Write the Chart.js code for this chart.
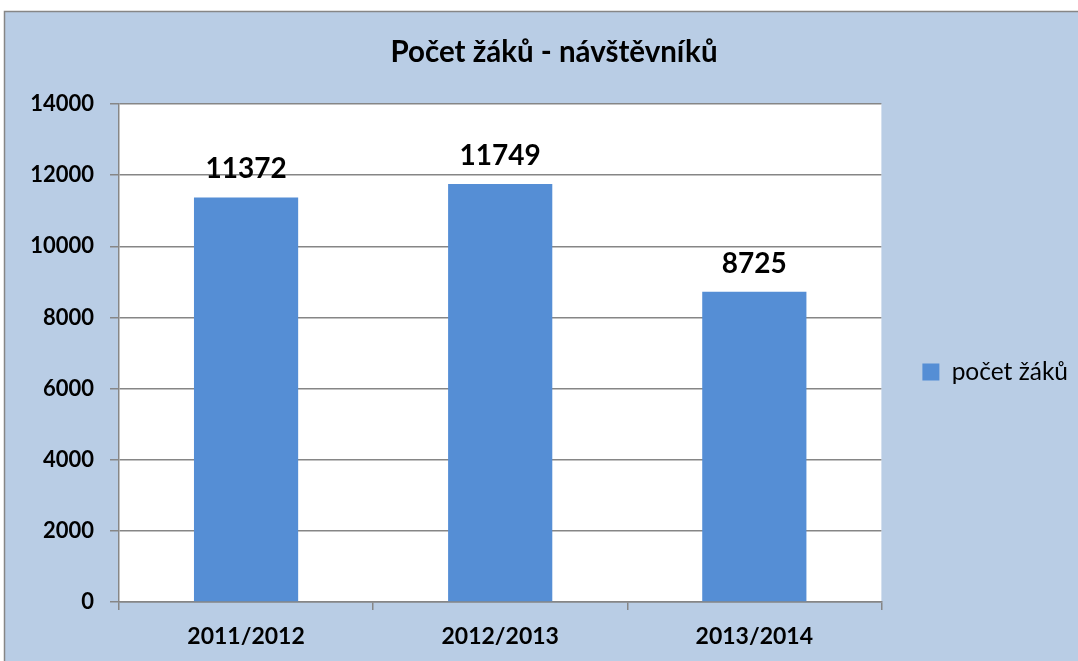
<!DOCTYPE html>
<html>
<head>
<meta charset="utf-8">
<script src="https://cdn.jsdelivr.net/npm/chart.js@4/dist/chart.umd.min.js"></script>
<style>
  html, body { margin: 0; padding: 0; background: #fff; }
  #wrap { width: 1078px; height: 661px; }
</style>
</head>
<body>
<div id="wrap"><canvas id="chart" width="1078" height="661"></canvas></div>
<script>
const categories = ["2011/2012", "2012/2013", "2013/2014"];
const pocetZaku = [11372, 11749, 8725];
const yMin = 0, yMax = 14000, yStep = 2000;

const FONT = "Lato, 'Open Sans', sans-serif";
const BG = "#B9CDE5";
const BAR = "#558ED5";
const LINE = "#868686";

// pozadí grafu + bílá plocha
const background = {
  id: "background",
  beforeDraw(chart) {
    const { ctx, chartArea: a } = chart;
    ctx.save();
    ctx.fillStyle = "#fff";
    ctx.fillRect(0, 0, chart.width, chart.height);
    ctx.fillStyle = BG;
    ctx.fillRect(4, 11, chart.width, chart.height);
    ctx.strokeStyle = LINE;
    ctx.lineWidth = 1.5;
    ctx.beginPath();
    ctx.moveTo(4.5, chart.height);
    ctx.lineTo(4.5, 11.5);
    ctx.lineTo(chart.width, 11.5);
    ctx.stroke();
    ctx.fillStyle = "#fff";
    ctx.fillRect(a.left, a.top, a.right - a.left, a.bottom - a.top);
    ctx.restore();
  }
};

// popisky hodnot nad sloupci
const valueLabels = {
  id: "valueLabels",
  afterDatasetsDraw(chart) {
    const { ctx } = chart;
    const meta = chart.getDatasetMeta(0);
    ctx.save();
    ctx.font = "bold 28px " + FONT;
    ctx.fillStyle = "#000";
    ctx.textAlign = "center";
    ctx.textBaseline = "alphabetic";
    meta.data.forEach((bar, i) => {
      ctx.fillText(chart.data.datasets[0].data[i], bar.x, bar.y - 19);
    });
    ctx.restore();
  }
};

new Chart(document.getElementById("chart"), {
  type: "bar",
  data: {
    labels: categories,
    datasets: [{
      label: "počet žáků",
      data: pocetZaku,
      backgroundColor: BAR,
      borderWidth: 0,
      categoryPercentage: 1,
      barPercentage: 0.41
    }]
  },
  options: {
    responsive: false,
    animation: false,
    layout: { padding: { left: 30, top: 11, right: 0, bottom: 0 } },
    plugins: {
      title: {
        display: true,
        text: "Počet žáků - návštěvníků",
        color: "#000",
        font: { family: FONT, size: 29.5, weight: "bold", lineHeight: 1.2 },
        padding: { top: 23.3, bottom: 34.3 }
      },
      legend: {
        position: "right",
        fullSize: false,
        title: { display: true, text: "", font: { size: 10, lineHeight: 1 }, padding: { top: 28, bottom: 0 } },
        labels: {
          color: "#000",
          boxWidth: 17,
          boxHeight: 17,
          padding: 41,
          font: { family: FONT, size: 24.5 }
        }
      },
      tooltip: { enabled: false }
    },
    scales: {
      x: {
        grid: { offset: true, drawOnChartArea: false, color: LINE, lineWidth: 1.5, tickLength: 8 },
        border: { color: LINE, width: 1.5 },
        ticks: { color: "#000", padding: 13, font: { family: FONT, size: 23, weight: "bold" } },
        afterFit(axis) { axis.height = 59; }
      },
      y: {
        min: yMin,
        max: yMax,
        grid: { color: LINE, lineWidth: 1.5, tickLength: 9 },
        border: { color: LINE, width: 1.5 },
        ticks: {
          stepSize: yStep,
          color: "#000",
          padding: 16,
          font: { family: FONT, size: 22, weight: "bold" },
          callback: (v) => String(v)
        },
        afterFit(axis) { axis.width = 89; }
      }
    }
  },
  plugins: [background, valueLabels]
});
</script>
</body>
</html>
